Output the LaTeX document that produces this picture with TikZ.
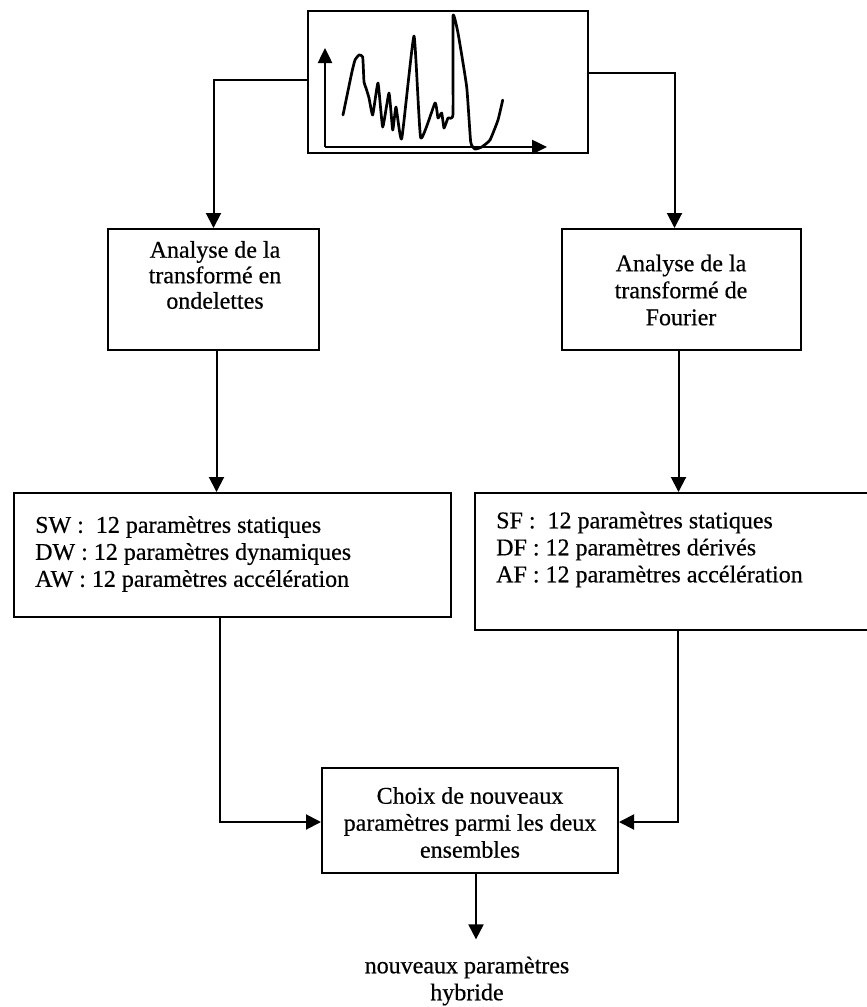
\documentclass[tikz,border=0pt]{standalone}
\usepackage{fontspec}
\setmainfont{Liberation Serif}
\newfontfamily\printfont[FakeBold=0.5]{Liberation Serif}
\usetikzlibrary{arrows.meta}
\begin{document}
\begin{tikzpicture}[x=1pt,y=-1pt,
  box/.style={draw, line width=2pt, inner sep=0pt},
  txt/.style={font=\printfont\fontsize{24}{25.5}\selectfont, align=center, inner sep=0pt},
  txtw/.style={font=\printfont\fontsize{24}{27}\selectfont, align=center, inner sep=0pt},
  ltxt/.style={font=\printfont\fontsize{24}{27}\selectfont, align=left, inner sep=0pt, anchor=west},
  arr/.style={line width=2pt, -{Triangle[length=15pt,width=15pt]}},
  axis/.style={line width=2.5pt, -{Triangle[length=15pt,width=14pt]}}]
\useasboundingbox (0,0) rectangle (867,1007);
\clip (0,0) rectangle (867,1007);

% signal box
\node[box, minimum width=280pt, minimum height=142pt] (sig) at (448,82) {};
\draw[axis] (325,147) -- (325,48);
\draw[axis] (325,147) -- (547,147);
\draw[line width=2.7pt, line join=round, line cap=round]
  plot[smooth, tension=0.25] coordinates {
  (343,115) (351.7,73) (355,60) (359,55) (362.7,57) (364,82) (366,88)
  (369,98) (372.7,115) (378,83) (382.7,127) (389,93) (392.7,130) (396,107)
  (401.7,139) (414,36) (420.7,138) (435,103) (438,118) (441.7,113) (444,128)
  (448,118) (453,114) (453,16) (458,33) (466.7,87) (470.7,142) (475,149)
  (481.7,147) (490,140) (498,120) (502.7,100)};

% analysis boxes
\node[box, minimum width=211pt, minimum height=121pt] (wav) at (213.5,289.5) {};
\node[txt] (wavt) at (215,275) {Analyse de la\\transformé en\\ondelettes};
\node[box, minimum width=239pt, minimum height=121pt] (fou) at (681.5,289.5) {};
\node[txtw] (fout) at (681,290) {Analyse de la\\transformé de\\Fourier};

% parameter boxes
\node[box, minimum width=437pt, minimum height=124pt] (wl) at (232.5,555) {};
\node[ltxt] (wlt) at (35,554) {SW :\ \ 12 paramètres statiques\\DW : 12 paramètres dynamiques\\AW : 12 paramètres accélération};
\node[box, minimum width=420pt, minimum height=137pt] (fl) at (685,561.5) {};
\node[ltxt] (flt) at (496,549.5) {SF :\ \ 12 paramètres statiques\\DF : 12 paramètres dérivés\\AF : 12 paramètres accélération};

% selection box and result
\node[box, minimum width=296pt, minimum height=105pt] (cho) at (470,820.5) {};
\node[txtw] (chot) at (470,822.5) {Choix de nouveaux\\paramètres parmi les deux\\ensembles};
\node[txtw] (out) at (467,981) {nouveaux paramètres\\hybride};

% connectors
\coordinate (sigL) at ([yshift=2pt]sig.west);
\coordinate (sigR) at ([yshift=9pt]sig.east);
\draw[arr] (sigL) -| (wav.north);
\draw[arr] (sigR) -| ([xshift=-7pt]fou.north);
\draw[arr] ([xshift=3pt]wav.south) -- ([xshift=3pt]wav.south |- wl.north);
\draw[arr] ([xshift=-3pt]fou.south) -- ([xshift=-3pt]fou.south |- fl.north);
\draw[arr] ([xshift=6pt]wav.south |- wl.south) |- ([yshift=-1.5pt]cho.west);
\draw[arr] ([xshift=-4pt]fou.south |- fl.south) |- ([yshift=-1.5pt]cho.east);
\coordinate (outTip) at ([xshift=6pt,yshift=17pt]cho.south |- out.north);
\draw[arr] ([xshift=6pt]cho.south) -- (outTip);
\end{tikzpicture}
\end{document}
